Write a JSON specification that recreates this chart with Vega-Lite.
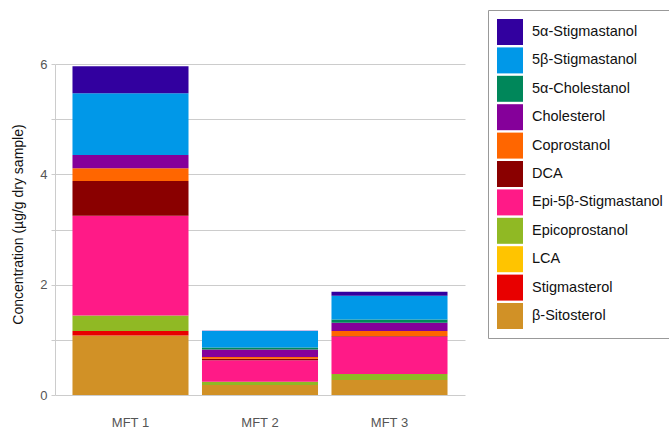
{
  "$schema": "https://vega.github.io/schema/vega-lite/v6.json",
  "width": 410,
  "height": 331,
  "autosize": "none",
  "padding": {"left": 55, "top": 64, "right": 204, "bottom": 36},
  "background": "white",
  "config": {"view": {"stroke": null}, "font": "Liberation Sans"},
  "data": {"values": [
    {"site": "MFT 1", "sterol": "β-Sitosterol", "rank": 1, "conc": 1.08},
    {"site": "MFT 1", "sterol": "Stigmasterol", "rank": 2, "conc": 0.08},
    {"site": "MFT 1", "sterol": "LCA", "rank": 3, "conc": 0.0},
    {"site": "MFT 1", "sterol": "Epicoprostanol", "rank": 4, "conc": 0.28},
    {"site": "MFT 1", "sterol": "Epi-5β-Stigmastanol", "rank": 5, "conc": 1.81},
    {"site": "MFT 1", "sterol": "DCA", "rank": 6, "conc": 0.63},
    {"site": "MFT 1", "sterol": "Coprostanol", "rank": 7, "conc": 0.23},
    {"site": "MFT 1", "sterol": "Cholesterol", "rank": 8, "conc": 0.24},
    {"site": "MFT 1", "sterol": "5α-Cholestanol", "rank": 9, "conc": 0.0},
    {"site": "MFT 1", "sterol": "5β-Stigmastanol", "rank": 10, "conc": 1.12},
    {"site": "MFT 1", "sterol": "5α-Stigmastanol", "rank": 11, "conc": 0.49},
    {"site": "MFT 2", "sterol": "β-Sitosterol", "rank": 1, "conc": 0.18},
    {"site": "MFT 2", "sterol": "Stigmasterol", "rank": 2, "conc": 0.0},
    {"site": "MFT 2", "sterol": "LCA", "rank": 3, "conc": 0.0},
    {"site": "MFT 2", "sterol": "Epicoprostanol", "rank": 4, "conc": 0.06},
    {"site": "MFT 2", "sterol": "Epi-5β-Stigmastanol", "rank": 5, "conc": 0.39},
    {"site": "MFT 2", "sterol": "DCA", "rank": 6, "conc": 0.025},
    {"site": "MFT 2", "sterol": "Coprostanol", "rank": 7, "conc": 0.035},
    {"site": "MFT 2", "sterol": "Cholesterol", "rank": 8, "conc": 0.135},
    {"site": "MFT 2", "sterol": "5α-Cholestanol", "rank": 9, "conc": 0.035},
    {"site": "MFT 2", "sterol": "5β-Stigmastanol", "rank": 10, "conc": 0.3},
    {"site": "MFT 2", "sterol": "5α-Stigmastanol", "rank": 11, "conc": 0.005},
    {"site": "MFT 3", "sterol": "β-Sitosterol", "rank": 1, "conc": 0.27},
    {"site": "MFT 3", "sterol": "Stigmasterol", "rank": 2, "conc": 0.0},
    {"site": "MFT 3", "sterol": "LCA", "rank": 3, "conc": 0.0},
    {"site": "MFT 3", "sterol": "Epicoprostanol", "rank": 4, "conc": 0.11},
    {"site": "MFT 3", "sterol": "Epi-5β-Stigmastanol", "rank": 5, "conc": 0.68},
    {"site": "MFT 3", "sterol": "DCA", "rank": 6, "conc": 0.01},
    {"site": "MFT 3", "sterol": "Coprostanol", "rank": 7, "conc": 0.09},
    {"site": "MFT 3", "sterol": "Cholesterol", "rank": 8, "conc": 0.15},
    {"site": "MFT 3", "sterol": "5α-Cholestanol", "rank": 9, "conc": 0.06},
    {"site": "MFT 3", "sterol": "5β-Stigmastanol", "rank": 10, "conc": 0.43},
    {"site": "MFT 3", "sterol": "5α-Stigmastanol", "rank": 11, "conc": 0.07}
  ]},
  "mark": {"type": "bar"},
  "encoding": {
    "x": {
      "field": "site", "type": "nominal",
      "scale": {"paddingInner": 0.104, "paddingOuter": 0.135},
      "axis": {"title": null, "labelAngle": 0, "ticks": false, "domain": false, "labelPadding": 21, "labelFontSize": 13, "labelColor": "#555555"}
    },
    "y": {
      "field": "conc", "type": "quantitative", "aggregate": "sum",
      "scale": {"domain": [0, 6], "nice": false},
      "axis": {
        "title": "Concentration (µg/g dry sample)",
        "titleFontSize": 14, "titleFontWeight": "normal", "titleColor": "#111111",
        "titleX": -37, "titleY": 160, "titleAngle": -90, "titleAlign": "center", "titleBaseline": "middle",
        "values": [0, 1, 2, 3, 4, 5, 6],
        "labelExpr": "datum.value % 2 === 0 ? datum.label : ''",
        "labelFontSize": 13, "labelColor": "#555555", "labelPadding": 4,
        "ticks": true, "tickSize": 4, "tickColor": "#cccccc",
        "domain": true, "domainColor": "#cccccc",
        "grid": true, "gridColor": "#cccccc"
      }
    },
    "color": {
      "field": "sterol", "type": "nominal",
      "scale": {
        "domain": ["5α-Stigmastanol", "5β-Stigmastanol", "5α-Cholestanol", "Cholesterol", "Coprostanol", "DCA", "Epi-5β-Stigmastanol", "Epicoprostanol", "LCA", "Stigmasterol", "β-Sitosterol"],
        "range": ["#32009f", "#0098e8", "#00875a", "#85009a", "#ff6600", "#8a0000", "#ff1a87", "#90b924", "#ffc400", "#e80000", "#d19126"]
      },
      "legend": {
        "title": null, "orient": "none", "legendX": 433, "legendY": -54,
        "symbolType": "square", "symbolSize": 676, "symbolStrokeWidth": 0, "symbolOpacity": 1,
        "labelFontSize": 14.5, "labelColor": "#111111", "labelOffset": 9,
        "rowPadding": 2.4, "padding": 9,
        "strokeColor": "#999999", "fillColor": "white",
        "labelLimit": 200
      }
    },
    "order": {"field": "rank", "type": "quantitative", "sort": "ascending"}
  }
}
